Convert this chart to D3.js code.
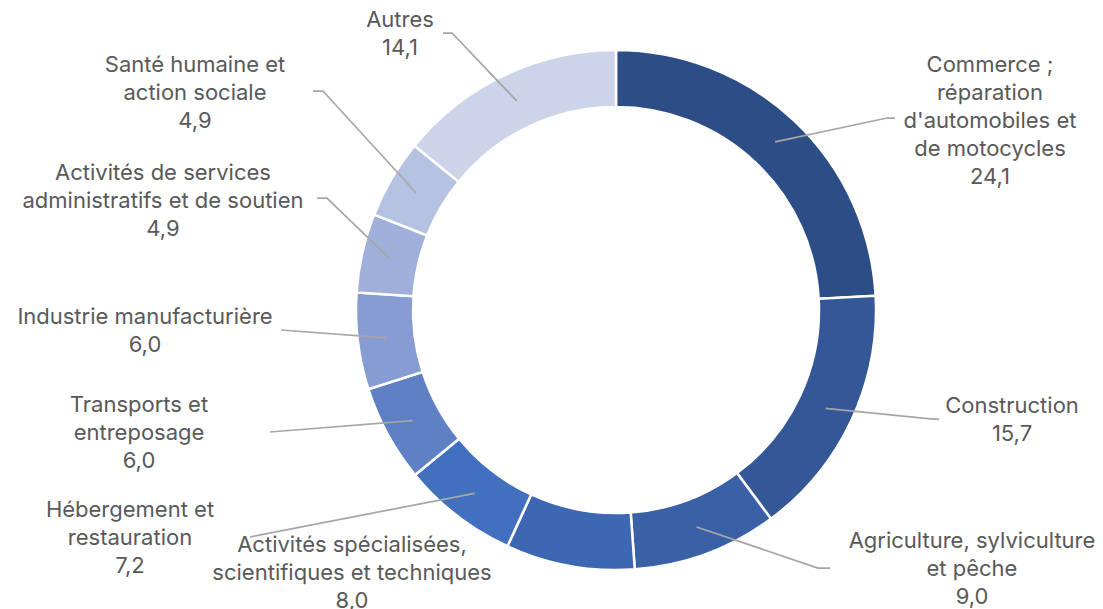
<!DOCTYPE html>
<html>
<head>
<meta charset="utf-8">
<script src="https://cdn.jsdelivr.net/npm/d3@7"></script>
<style>
  body { margin: 0; background: #fff; }
  .label text { font-family: Inter, "Open Sans", sans-serif; font-size: 22px; fill: #595959; }
  .leader { fill: none; stroke: #a6a6a6; stroke-width: 1.75; }
</style>
</head>
<body>
<div id="chart"></div>
<script>
const categories = [
  "Commerce ; réparation d'automobiles et de motocycles",
  "Construction",
  "Agriculture, sylviculture et pêche",
  "Activités spécialisées, scientifiques et techniques",
  "Hébergement et restauration",
  "Transports et entreposage",
  "Industrie manufacturière",
  "Activités de services administratifs et de soutien",
  "Santé humaine et action sociale",
  "Autres"
];
const values = [24.1, 15.7, 9.0, 8.0, 7.2, 6.0, 6.0, 4.9, 4.9, 14.1];

// how each category label is broken over lines
const labelLines = [
  ["Commerce ;", "réparation", "d'automobiles et", "de motocycles"],
  ["Construction"],
  ["Agriculture, sylviculture", "et pêche"],
  ["Activités spécialisées,", "scientifiques et techniques"],
  ["Hébergement et", "restauration"],
  ["Transports et", "entreposage"],
  ["Industrie manufacturière"],
  ["Activités de services", "administratifs et de soutien"],
  ["Santé humaine et", "action sociale"],
  ["Autres"]
];

const colors = ["#2c4d85", "#335797", "#3a60a6", "#3e67b3", "#426fbe",
                "#6080c6", "#869cd3", "#a1b0db", "#b6c2e2", "#cdd3e8"];

// label placement (text centre x, first baseline y) and leader line end points
const labelPos = [
  { x: 990,  y: 72,  leader: [[887, 118], [895, 118]] },
  { x: 1012, y: 413, leader: [[933, 419], [939, 419]] },
  { x: 972,  y: 548, leader: [[818, 568], [830, 568]] },
  { x: 352,  y: 552, leader: null },
  { x: 130,  y: 517, leader: [[250, 537]] },
  { x: 139,  y: 412, leader: [[270, 432]] },
  { x: 145,  y: 324, leader: [[281, 330]] },
  { x: 163,  y: 180, leader: [[327, 198], [317, 198]] },
  { x: 195,  y: 72,  leader: [[323, 91], [313, 91]] },
  { x: 400,  y: 27,  leader: [[452, 33], [443, 33]] }
];

const width = 1103, height = 609;
const cx = 616, cy = 310;
const outerR = 260, innerR = 203;
const lineH = 28;

const fr = d3.formatLocale({ decimal: ",", thousands: "\u00a0", grouping: [3], currency: ["", " €"] });
const fmt = fr.format(".1f");

const pie = d3.pie().sort(null).value(d => d.value);
const arc = d3.arc().innerRadius(innerR).outerRadius(outerR);

const data = categories.map((c, i) => ({ name: c, value: values[i], i: i }));
const arcs = pie(data);

let svg = d3.select('#chart')
  .append('svg')
    .attr('width', width)
    .attr('height', height);

let ring = svg.append('g')
  .attr('transform', 'translate(' + cx + ',' + cy + ')');

ring.selectAll('path')
  .data(arcs)
  .join('path')
    .attr('d', arc)
    .attr('fill', d => colors[d.data.i])
    .attr('stroke', '#fff')
    .attr('stroke-width', 2.5);

// leader lines from slice centroid to the label
const line = d3.line();
svg.append('g')
  .selectAll('path')
  .data(arcs.filter(d => labelPos[d.data.i].leader))
  .join('path')
    .attr('class', 'leader')
    .attr('d', d => {
      const c = arc.centroid(d);
      return line([[cx + c[0], cy + c[1]]].concat(labelPos[d.data.i].leader));
    });

let labels = svg.append('g')
  .attr('class', 'label')
  .selectAll('text')
  .data(arcs)
  .join('text')
    .attr('text-anchor', 'middle')
    .attr('x', d => labelPos[d.data.i].x)
    .attr('y', d => labelPos[d.data.i].y);

labels.selectAll('tspan')
  .data(d => labelLines[d.data.i].concat([fmt(d.data.value)]).map(t => ({ t: t, x: labelPos[d.data.i].x })))
  .join('tspan')
    .attr('x', d => d.x)
    .attr('dy', (d, j) => j === 0 ? 0 : lineH)
    .text(d => d.t);
</script>
</body>
</html>
